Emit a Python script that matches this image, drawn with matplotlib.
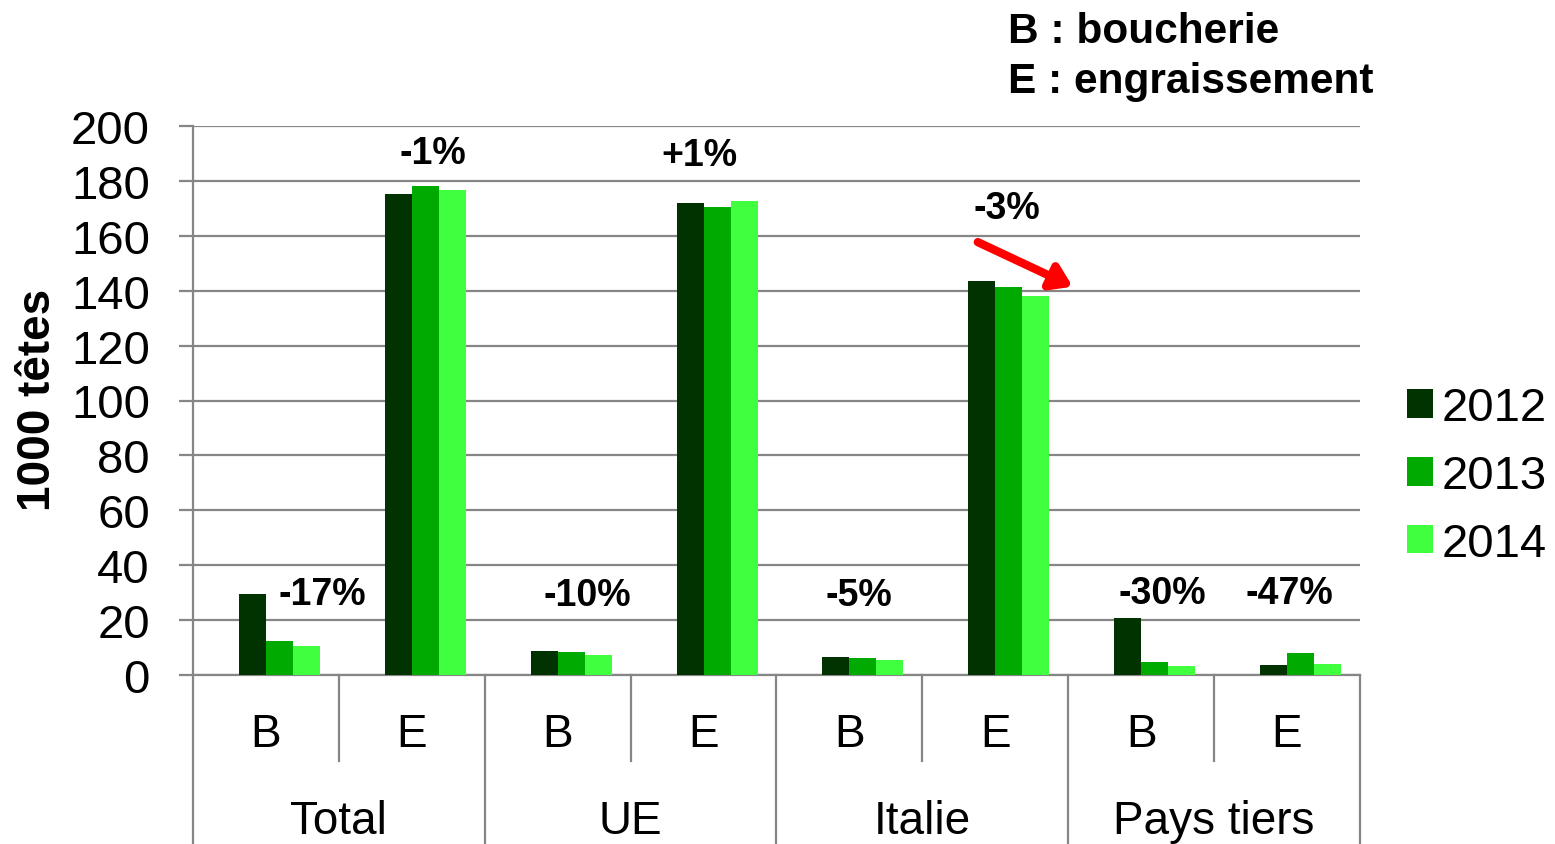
import matplotlib.pyplot as plt
import matplotlib.transforms as mtransforms
import numpy as np

plt.rcParams['font.family'] = ['Liberation Sans', 'DejaVu Sans']

# data (1000 têtes)
groups = ['Total', 'UE', 'Italie', 'Pays tiers']
types = ['B', 'E']
years = ['2012', '2013', '2014']
v2012 = [29.5, 175.2, 8.7, 172.0, 6.6, 143.5, 20.8, 3.6]
v2013 = [12.5, 178.1, 8.4, 170.5, 6.2, 141.3, 4.7, 8.0]
v2014 = [10.6, 176.7, 7.3, 172.7, 5.5, 138.0, 3.3, 4.0]
changes = ['-17%', '-1%', '-10%', '+1%', '-5%', '-3%', '-30%', '-47%']
colors = ['#003300', '#00aa00', '#3fff3f']

# label positions (data coords)
chg_x = [0.384, 1.144, 2.205, 2.973, 4.068, 5.082, 6.144, 7.014]
chg_y = [29.5, 190.0, 29.0, 189.5, 29.0, 170.0, 30.0, 30.0]

fig = plt.figure(figsize=(15.55, 8.45), dpi=100)
ax = fig.add_axes([193 / 1555, 0.2, (1360 - 193) / 1555, (676 - 127) / 845])

x = np.arange(8)
w = 0.185
offsets = [-0.0925, 0.0925, 0.2775]
for vals, off, c, yr in zip([v2012, v2013, v2014], offsets, colors, years):
    ax.bar(x + off, vals, width=w, color=c, label=yr, zorder=3)

ax.set_xlim(-0.5, 7.5)
ax.set_ylim(0, 200)
ax.set_yticks(np.arange(0, 201, 20))
ax.yaxis.grid(True, color='#868686', linewidth=1.6, zorder=0)
ax.set_axisbelow(True)
ax.tick_params(axis='y', labelsize=34, length=10, width=1.6, color='#868686', pad=21)
ax.tick_params(axis='x', bottom=False, labelbottom=False)
for s in ['top', 'right']:
    ax.spines[s].set_visible(False)
for s in ['left', 'bottom']:
    ax.spines[s].set_color('#868686')
    ax.spines[s].set_linewidth(1.6)

# two-level category axis
trans = mtransforms.blended_transform_factory(ax.transData, ax.transAxes)
for i in range(8):
    ax.text(i, -0.108, types[i % 2], transform=trans, ha='center', va='center', fontsize=33)
    if i % 2 == 1:
        ax.plot([i - 0.5, i - 0.5], [0, -0.1566], transform=trans, color='#868686',
                lw=1.6, clip_on=False)
for g in range(4):
    ax.text(2 * g + 0.5, -0.266, groups[g], transform=trans, ha='center', va='center', fontsize=33)
for b in range(5):
    ax.plot([2 * b - 0.5, 2 * b - 0.5], [0, -0.32], transform=trans, color='#868686',
            lw=1.6, clip_on=False)

for xi, yi, t in zip(chg_x, chg_y, changes):
    ax.text(xi, yi, t, ha='center', va='center', fontsize=27, fontweight='bold', zorder=5)

# red arrow on Italie E
ax.annotate('', xy=(5.53, 141.5), xytext=(4.88, 157.7),
            arrowprops=dict(arrowstyle='-|>,head_length=1.2,head_width=0.8', color='red', lw=6,
                            shrinkA=0, shrinkB=0), annotation_clip=False)

fig.text(38 / 1555, 1 - 400 / 845, '1000 têtes', rotation=90, ha='center', va='center',
         fontsize=33, fontweight='bold')
fig.text(1008 / 1555, 1 - 32 / 845, 'B : boucherie', ha='left', va='center',
         fontsize=30.5, fontweight='bold')
fig.text(1008 / 1555, 1 - 82 / 845, 'E : engraissement', ha='left', va='center',
         fontsize=30.5, fontweight='bold')

fig.legend(loc='center left', bbox_to_anchor=(1383 / 1555, 1 - 477 / 845), frameon=False,
           fontsize=34, handlelength=0.55, handleheight=0.55, handletextpad=0.2,
           labelspacing=0.5, borderpad=0)

fig.savefig('out.png', dpi=100)
